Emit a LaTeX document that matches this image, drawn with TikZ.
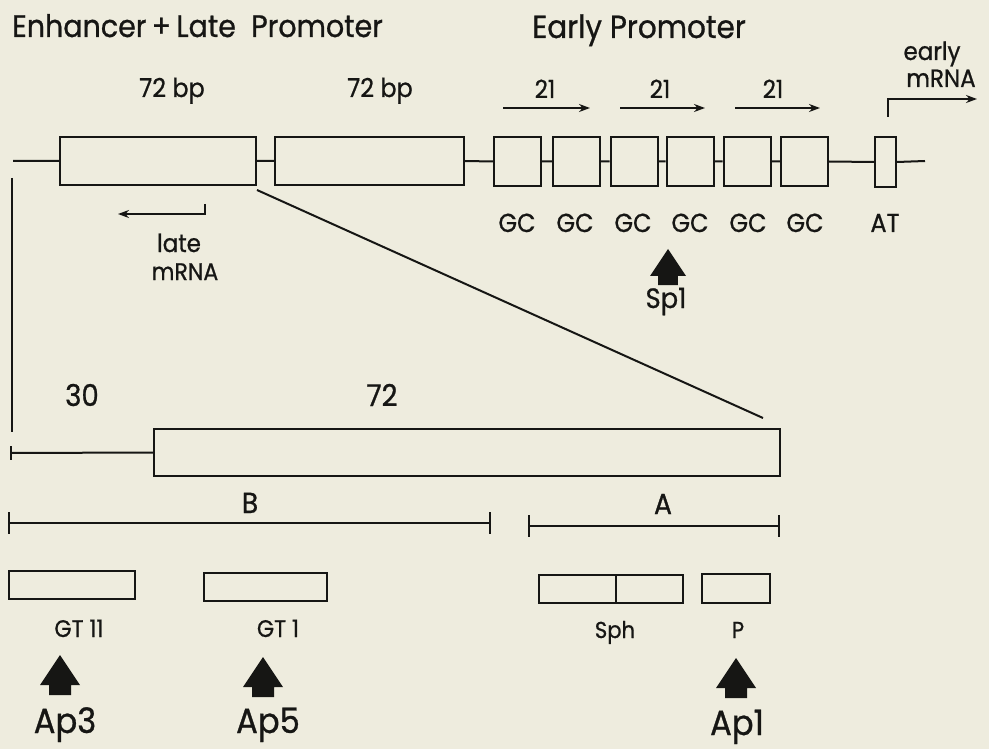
\documentclass[tikz,border=0pt]{standalone}
\usepackage{fontspec}
\setmainfont[FakeStretch=0.92,FakeBold=0.8]{Poppins}
\usetikzlibrary{arrows.meta}
\definecolor{bg}{RGB}{238,236,222}
\definecolor{ink}{RGB}{22,22,20}
\tikzset{
  box/.style={draw=ink, fill=bg, line width=2pt, inner sep=0pt, rectangle},
  ln/.style={draw=ink, line width=2pt},
  arr/.style={ln, -{Stealth[length=11pt,width=8pt]}},
  lbl/.style={text=ink, inner sep=0pt, anchor=base},
  fs/.style={font=\fontsize{#1}{#1}\selectfont},
  bigup/.pic={\fill[ink] (0,0) -- (20,30) -- (11,30) -- (11,40) -- (-11,40) -- (-11,30) -- (-20,30) -- cycle;}
}
\begin{document}
\begin{tikzpicture}[x=1pt,y=-1pt]
\useasboundingbox[fill=bg] (0,0) rectangle (989,749);
% titles
\node[lbl, fs=31, anchor=base west] (t1) at (12,37) {Enhancer\,+\,Late\ \ Promoter};
\node[lbl, fs=32, anchor=base west] (t2) at (532,38) {Early Promoter};
% main line coordinates
\coordinate (L0) at (13,161);
\coordinate (L1) at (925,161);
% boxes top
\node[box, minimum width=196pt, minimum height=48pt] (b1) at (158,161) {};
\node[box, minimum width=189pt, minimum height=48pt] (b2) at (369.5,161) {};
\foreach \n/\x in {g1/517.5, g2/576.5, g3/634, g4/690, g5/747, g6/804.5}
  \node[box, minimum width=47pt, minimum height=49pt] (\n) at (\x,161.5) {};
\node[box, minimum width=21pt, minimum height=50pt] (at) at (885.5,162) {};
\draw[ln] (L0) -- (b1.west) (b1.east) -- (b2.west) (b2.east) -- (g1.west)
  (g1.east) -- (g2.west) (g2.east) -- (g3.west) (g3.east) -- (g4.west)
  (g4.east) -- (g5.west) (g5.east) -- (g6.west) (g6.east) -- (at.west) (at.east) -- (L1);
% 72 bp labels
\node[lbl, fs=26] (bp1) at (172,97) {72 bp};
\node[lbl, fs=26] (bp2) at (380,97) {72 bp};
% 21 arrows
\foreach \i/\a/\b/\c in {1/503/590/545, 2/620/705/660, 3/735/820/773}{
  \coordinate (r\i a) at (\a,108);
  \coordinate (r\i b) at (\b,108);
  \draw[arr] (r\i a) -- (r\i b);
  \node[lbl, fs=25] (n\i) at (\c,98) {21};
}
% early mRNA
\coordinate (e0) at (888,117);
\coordinate (e1) at (977,99);
\draw[arr] (e0) |- (e1);
\node[lbl, fs=25] (early) at (932,60) {early};
\node[lbl, fs=25] (emrna) at (941,87) {mRNA};
% late mRNA
\coordinate (l0) at (205,204);
\coordinate (l1) at (118,214);
\draw[arr] (l0) |- (l1);
\node[lbl, fs=25] (late) at (179,252) {late};
\node[lbl, fs=24] (lmrna) at (185,280) {mRNA};
% GC labels
\foreach \n/\x in {c1/517, c2/575, c3/633, c4/690, c5/748, c6/805}
  \node[lbl, fs=26] (\n) at (\x,232) {GC};
\node[lbl, fs=26] (atl) at (885,232) {AT};
% Sp1
\pic at (668,249) [scale=0.9] {bigup};
\node[lbl, fs=28] (sp1) at (666,308) {Sp1};
% expansion lines
\coordinate (v0) at (12,178);
\coordinate (v1) at (12,432);
\draw[ln] (v0) -- (v1);
\coordinate (d0) at (257,190);
\coordinate (d1) at (763,418);
\draw[ln] (d0) -- (d1);
% big box
\node[box, minimum width=626pt, minimum height=47pt] (big) at (467,452.5) {};
\coordinate (s0) at (11,453);
\draw[ln] (s0) -- (big.west);
\draw[ln] (11,446) -- (11,460);
\node[lbl, fs=30] (n30) at (82,406) {30};
\node[lbl, fs=30] (n72) at (382,406) {72};
% B and A brackets
\coordinate (B0) at (9,523); \coordinate (B1) at (490,523);
\draw[ln] (B0) -- (B1);
\draw[ln] (9,512) -- (9,534) (490,512) -- (490,534);
\node[lbl, fs=29] (B) at (250,513) {B};
\coordinate (A0) at (529,526); \coordinate (A1) at (779,526);
\draw[ln] (A0) -- (A1);
\draw[ln] (529,515) -- (529,537) (779,515) -- (779,537);
\node[lbl, fs=29] (A) at (663,514) {A};
% small boxes
\node[box, minimum width=126pt, minimum height=28pt] (gt11) at (72,585) {};
\node[box, minimum width=123pt, minimum height=28pt] (gt1) at (265.5,587) {};
\node[box, minimum width=144pt, minimum height=28pt] (sph) at (611,589) {};
\draw[ln] (sph.north -| 616,0) -- (sph.south -| 616,0);
\node[box, minimum width=68pt, minimum height=29pt] (p) at (736,588.5) {};
\node[lbl, fs=24] (gt11l) at (79,637) {GT 11};
\node[lbl, fs=24] (gt1l) at (278,637) {GT 1};
\node[lbl, fs=23] (sphl) at (615,638) {Sph};
\node[lbl, fs=23] (pl) at (738,638) {P};
% Ap arrows
\pic at (60,655) {bigup};
\pic at (263,657) {bigup};
\pic at (736,658) {bigup};
\node[lbl, fs=35] (ap3) at (65,733) {Ap3};
\node[lbl, fs=35] (ap5) at (268,733) {Ap5};
\node[lbl, fs=35] (ap1) at (737,735) {Ap1};
\end{tikzpicture}
\end{document}
